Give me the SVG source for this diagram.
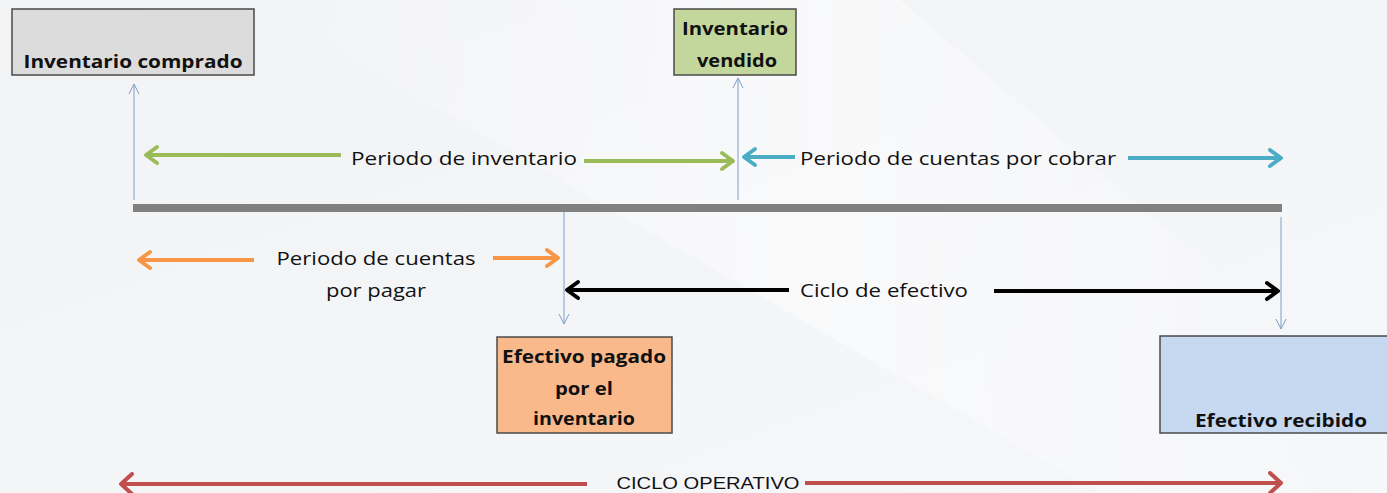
<svg xmlns="http://www.w3.org/2000/svg" width="1387" height="493" viewBox="0 0 1387 493">
  <defs>
    <linearGradient id="bg" x1="0" y1="0" x2="1" y2="1">
      <stop offset="0" stop-color="#f2f3f5"/>
      <stop offset="1" stop-color="#f6f7f9"/>
    </linearGradient>
    <linearGradient id="sheen" x1="0" y1="0" x2="1" y2="0">
      <stop offset="0" stop-color="#ffffff" stop-opacity="0"/>
      <stop offset="0.5" stop-color="#ffffff" stop-opacity="0.45"/>
      <stop offset="1" stop-color="#ffffff" stop-opacity="0"/>
    </linearGradient>
    <marker id="mGreen" viewBox="-16 -12 20 24" refX="0" refY="0" markerWidth="20" markerHeight="24" markerUnits="userSpaceOnUse" orient="auto-start-reverse">
      <path d="M-11,-8 L0,0 L-11,8" fill="none" stroke="#9bbb59" stroke-width="4" stroke-linecap="round" stroke-linejoin="round"/>
    </marker>
    <marker id="mBlue" viewBox="-16 -12 20 24" refX="0" refY="0" markerWidth="20" markerHeight="24" markerUnits="userSpaceOnUse" orient="auto-start-reverse">
      <path d="M-11,-8 L0,0 L-11,8" fill="none" stroke="#4bacc6" stroke-width="4" stroke-linecap="round" stroke-linejoin="round"/>
    </marker>
    <marker id="mOrange" viewBox="-16 -12 20 24" refX="0" refY="0" markerWidth="20" markerHeight="24" markerUnits="userSpaceOnUse" orient="auto-start-reverse">
      <path d="M-11,-8 L0,0 L-11,8" fill="none" stroke="#f79646" stroke-width="4" stroke-linecap="round" stroke-linejoin="round"/>
    </marker>
    <marker id="mBlack" viewBox="-16 -12 20 24" refX="0" refY="0" markerWidth="20" markerHeight="24" markerUnits="userSpaceOnUse" orient="auto-start-reverse">
      <path d="M-11,-8 L0,0 L-11,8" fill="none" stroke="#000000" stroke-width="4" stroke-linecap="round" stroke-linejoin="round"/>
    </marker>
    <marker id="mRed" viewBox="-16 -12 20 24" refX="0" refY="0" markerWidth="20" markerHeight="24" markerUnits="userSpaceOnUse" orient="auto-start-reverse">
      <path d="M-11,-10 L0,0 L-11,10" fill="none" stroke="#c0504d" stroke-width="4" stroke-linecap="round" stroke-linejoin="round"/>
    </marker>
    <marker id="mThin" viewBox="-12 -6 14 12" refX="0" refY="0" markerWidth="14" markerHeight="12" markerUnits="userSpaceOnUse" orient="auto-start-reverse">
      <path d="M-10,-5 L0,0 L-10,5" fill="none" stroke="#7f9fca" stroke-width="1"/>
    </marker>
  </defs>
  <style>
    .box { stroke: #4a4a4a; stroke-width: 1.5; }
    .bt { font-family: "Open Sans", "Noto Sans", "Liberation Sans", sans-serif; font-weight: bold; font-size: 18.5px; fill: #111111; text-anchor: middle; }
    .lt { font-family: "Open Sans", "Noto Sans", "Liberation Sans", sans-serif; font-size: 18.5px; fill: #111111; text-anchor: middle; }
    .ct { font-family: "Liberation Sans", "Open Sans", sans-serif; font-size: 16px; fill: #111111; text-anchor: middle; }
    .thick { fill: none; stroke-width: 4; }
    .thin { fill: none; stroke: #7f9fca; stroke-width: 1; }
  </style>

  <rect x="0" y="0" width="1387" height="493" fill="url(#bg)"/>
  <polygon points="250,0 900,0 1387,420 1387,493 1100,493" fill="url(#sheen)"/>

  <g id="timeline">
    <rect x="133" y="204" width="1149" height="8" fill="#808080"/>
  </g>

  <g id="node-inventario-comprado">
    <rect class="box" x="12" y="9" width="242" height="66" fill="#dcdcdc"/>
    <text class="bt" x="133" y="68" textLength="219" lengthAdjust="spacingAndGlyphs">Inventario comprado</text>
  </g>

  <g id="node-inventario-vendido">
    <rect class="box" x="674" y="9" width="122" height="66" fill="#c3d69b"/>
    <text class="bt" x="735" y="35" textLength="106" lengthAdjust="spacingAndGlyphs">Inventario</text>
    <text class="bt" x="737" y="67" textLength="80" lengthAdjust="spacingAndGlyphs">vendido</text>
  </g>

  <g id="node-efectivo-pagado">
    <rect class="box" x="497" y="337" width="175" height="96" fill="#fab98a"/>
    <text class="bt" x="584" y="363" textLength="164" lengthAdjust="spacingAndGlyphs">Efectivo pagado</text>
    <text class="bt" x="584" y="395" textLength="58" lengthAdjust="spacingAndGlyphs">por el</text>
    <text class="bt" x="584" y="425" textLength="102" lengthAdjust="spacingAndGlyphs">inventario</text>
  </g>

  <g id="node-efectivo-recibido">
    <rect class="box" x="1160" y="336" width="230" height="97" fill="#c6d9f0"/>
    <text class="bt" x="1281" y="427" textLength="172" lengthAdjust="spacingAndGlyphs">Efectivo recibido</text>
  </g>

  <g id="connectors">
    <!-- thin vertical arrows -->
    <path class="thin" d="M134,200 L134,84" marker-end="url(#mThin)"/>
    <path class="thin" d="M738,200 L738,78" marker-end="url(#mThin)"/>
    <path class="thin" d="M564,212 L564,324" marker-end="url(#mThin)"/>
    <path class="thin" d="M1281,217 L1281,329" marker-end="url(#mThin)"/>

    <!-- Periodo de inventario -->
    <path class="thick" stroke="#9bbb59" d="M341,155 L146,155" marker-end="url(#mGreen)"/>
    <path class="thick" stroke="#9bbb59" d="M584,161 L733,161" marker-end="url(#mGreen)"/>
    <text class="lt" x="464" y="165" textLength="226" lengthAdjust="spacingAndGlyphs">Periodo de inventario</text>

    <!-- Periodo de cuentas por cobrar -->
    <path class="thick" stroke="#4bacc6" d="M795,157 L744,157" marker-end="url(#mBlue)"/>
    <path class="thick" stroke="#4bacc6" d="M1128,158 L1281,158" marker-end="url(#mBlue)"/>
    <text class="lt" x="958" y="165" textLength="316" lengthAdjust="spacingAndGlyphs">Periodo de cuentas por cobrar</text>

    <!-- Periodo de cuentas por pagar -->
    <path class="thick" stroke="#f79646" d="M254,260 L139,260" marker-end="url(#mOrange)"/>
    <path class="thick" stroke="#f79646" d="M493,258 L558,258" marker-end="url(#mOrange)"/>
    <text class="lt" x="376" y="265" textLength="199" lengthAdjust="spacingAndGlyphs">Periodo de cuentas</text>
    <text class="lt" x="376" y="297" textLength="100" lengthAdjust="spacingAndGlyphs">por pagar</text>

    <!-- Ciclo de efectivo -->
    <path class="thick" stroke="#000000" d="M789,290 L567,290" marker-end="url(#mBlack)"/>
    <path class="thick" stroke="#000000" d="M994,291 L1278,291" marker-end="url(#mBlack)"/>
    <text class="lt" x="884" y="297" textLength="168" lengthAdjust="spacingAndGlyphs">Ciclo de efectivo</text>

    <!-- Ciclo operativo -->
    <path class="thick" stroke="#c0504d" d="M587,484 L121,484" marker-end="url(#mRed)"/>
    <path class="thick" stroke="#c0504d" d="M805,483 L1281,483" marker-end="url(#mRed)"/>
    <text class="ct" x="708" y="489" textLength="183" lengthAdjust="spacingAndGlyphs">CICLO OPERATIVO</text>
  </g>
</svg>
